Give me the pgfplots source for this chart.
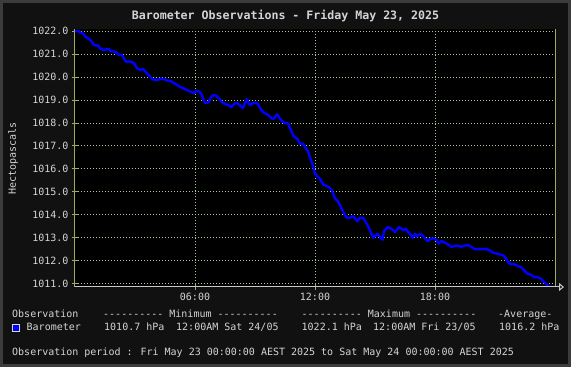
\documentclass[border=0pt]{standalone}
\usepackage{fontspec}
\setmainfont{DejaVu Sans Mono}[Ligatures=TeXOff]
\usepackage{pgfplots}
\pgfplotsset{compat=1.18}
\usetikzlibrary{arrows.meta}
\definecolor{bgc}{HTML}{111111}
\definecolor{framec}{HTML}{3C3C3C}
\definecolor{txt}{HTML}{D4D4D4}
\definecolor{gridc}{HTML}{A8CC98}
\definecolor{axc}{HTML}{9CAE5C}
\definecolor{xax}{HTML}{C8C8C8}
\pgfplotstableread{
h p
0.00 1022.00
0.20 1022.00
0.25 1021.94
0.40 1021.90
0.45 1021.83
0.55 1021.75
0.70 1021.65
0.80 1021.58
0.95 1021.40
1.05 1021.37
1.15 1021.38
1.25 1021.25
1.40 1021.18
1.55 1021.20
1.70 1021.22
1.80 1021.12
1.95 1021.11
2.05 1021.08
2.20 1020.96
2.35 1020.96
2.45 1020.80
2.55 1020.67
2.80 1020.67
2.95 1020.60
3.10 1020.38
3.30 1020.30
3.40 1020.36
3.55 1020.20
3.70 1020.07
3.85 1019.93
4.00 1019.87
4.15 1019.88
4.30 1019.93
4.45 1019.90
4.60 1019.85
4.80 1019.82
4.95 1019.73
5.10 1019.66
5.25 1019.56
5.40 1019.52
5.55 1019.45
5.75 1019.37
5.95 1019.30
6.07 1019.40
6.23 1019.36
6.32 1019.26
6.40 1019.07
6.50 1018.88
6.65 1018.88
6.73 1019.00
6.85 1019.17
6.98 1019.22
7.07 1019.17
7.23 1019.04
7.32 1018.93
7.48 1018.83
7.65 1018.78
7.82 1018.68
7.90 1018.78
8.07 1018.88
8.23 1018.78
8.40 1018.64
8.48 1018.83
8.60 1019.03
8.73 1018.78
8.90 1018.86
9.07 1018.88
9.15 1018.83
9.23 1018.68
9.32 1018.57
9.48 1018.42
9.65 1018.35
9.73 1018.28
9.90 1018.16
10.03 1018.28
10.10 1018.38
10.20 1018.25
10.32 1018.11
10.48 1017.99
10.65 1017.99
10.73 1017.82
10.82 1017.63
10.90 1017.48
10.98 1017.38
11.07 1017.34
11.15 1017.27
11.23 1017.10
11.40 1017.10
11.48 1016.98
11.57 1016.86
11.65 1016.76
11.73 1016.55
11.82 1016.33
11.90 1016.14
11.98 1015.85
12.07 1015.70
12.15 1015.65
12.23 1015.59
12.32 1015.45
12.43 1015.30
12.57 1015.26
12.70 1015.20
12.82 1015.09
12.90 1014.94
12.99 1014.72
13.07 1014.65
13.15 1014.58
13.24 1014.43
13.32 1014.29
13.40 1014.14
13.49 1014.00
13.60 1013.86
13.74 1013.86
13.86 1013.93
13.99 1013.86
14.11 1013.71
14.24 1013.86
14.41 1013.86
14.49 1013.75
14.58 1013.61
14.66 1013.49
14.74 1013.32
14.83 1013.17
14.91 1012.99
14.99 1013.06
15.13 1013.17
15.28 1012.99
15.38 1012.91
15.45 1013.28
15.55 1013.38
15.66 1013.46
15.83 1013.38
16.00 1013.25
16.08 1013.32
16.20 1013.46
16.33 1013.38
16.41 1013.32
16.55 1013.39
16.62 1013.28
16.75 1013.17
16.88 1012.99
17.00 1013.17
17.12 1013.06
17.25 1013.17
17.42 1013.06
17.55 1012.91
17.67 1012.84
17.75 1012.94
17.92 1012.97
18.07 1012.90
18.18 1012.75
18.32 1012.85
18.48 1012.79
18.65 1012.71
18.81 1012.60
18.98 1012.63
19.15 1012.65
19.31 1012.60
19.48 1012.65
19.64 1012.68
19.81 1012.60
19.98 1012.50
20.23 1012.50
20.56 1012.50
20.72 1012.46
20.89 1012.35
21.06 1012.31
21.22 1012.28
21.39 1012.24
21.55 1012.10
21.64 1011.94
21.72 1011.87
21.97 1011.84
22.14 1011.76
22.30 1011.72
22.47 1011.57
22.63 1011.43
22.80 1011.38
22.97 1011.28
23.13 1011.28
23.30 1011.21
23.42 1011.10
23.55 1010.99
23.68 1010.86
24.00 1010.86
}\baro
\begin{document}
\begin{tikzpicture}[x=1pt,y=1pt]
\fill[bgc] (0,0) rectangle (571,367);
\draw[framec, line width=3pt] (1.5,1.5) rectangle (569.5,365.5);
\begin{axis}[
  at={(75pt,80pt)}, anchor=south west,
  scale only axis, width=480pt, height=257.5pt,
  xmin=0, xmax=24, ymin=1010.85, ymax=1022.07,
  clip mode=individual,
  axis background/.style={fill=black},
  axis line style={draw=none},
  xtick={6,12,18}, xticklabels={06:00,12:00,18:00},
  ytick={1011,1012,...,1022},
  xtick pos=lower, ytick pos=left,
  tick align=center, major tick length=6pt,
  tick style={axc, line width=0.8pt},
  tick label style={font=\fontsize{10}{12}\selectfont, text=txt},
  yticklabel style={/pgf/number format/.cd, fixed, fixed zerofill, precision=1, 1000 sep={}, assume math mode=true},
  grid=major,
  major grid style={gridc, line width=0.8pt, dash pattern=on 1pt off 2pt},
  title={Barometer Observations - Friday May 23, 2025},
  title style={at={(rel axis cs:0.5,1)}, anchor=center, xshift=-29.5pt, yshift=7.5pt, font=\bfseries\fontsize{11.6}{13}\selectfont, text=txt},
  ylabel={Hectopascals},
  ylabel style={at={([xshift=-62pt]rel axis cs:0,0.5)}, anchor=center, rotate=0, font=\fontsize{10}{12}\selectfont, text=txt},
]
\addplot[color=blue, line width=2.4pt, line join=round] table[x=h, y=p] {\baro};
\draw[axc, line width=1pt] (rel axis cs:0,0) -- (rel axis cs:0,1);
\draw[axc, line width=1pt] (rel axis cs:1,0) -- (rel axis cs:1,1);
\draw[xax, line width=1pt, -{Triangle[open, length=5pt, width=8pt]}] (rel axis cs:0,0) -- ([xshift=9pt]rel axis cs:1,0);
\end{axis}
\begin{scope}[every node/.style={anchor=base west, inner sep=0pt, text=txt, font=\fontsize{10}{12}\selectfont}]
\node at (12,49) {Observation};
\node at (103,49) {---------- Minimum ----------};
\node at (301.5,49) {---------- Maximum ----------};
\node at (498,49) {-Average-};
\node at (26.5,36) {Barometer};
\node at (104,36) {1010.7 hPa};
\node at (176,36) {12:00AM Sat 24/05};
\node at (301.5,36) {1022.1 hPa};
\node at (373,36) {12:00AM Fri 23/05};
\node at (499,36) {1016.2 hPa};
\node at (12,11) {Observation period : Fri May 23 00:00:00 AEST 2025 to Sat May 24 00:00:00 AEST 2025};
\end{scope}
\filldraw[fill=blue, draw=txt, line width=0.8pt] (12.5,36) rectangle (19.5,43);
\end{tikzpicture}
\end{document}
